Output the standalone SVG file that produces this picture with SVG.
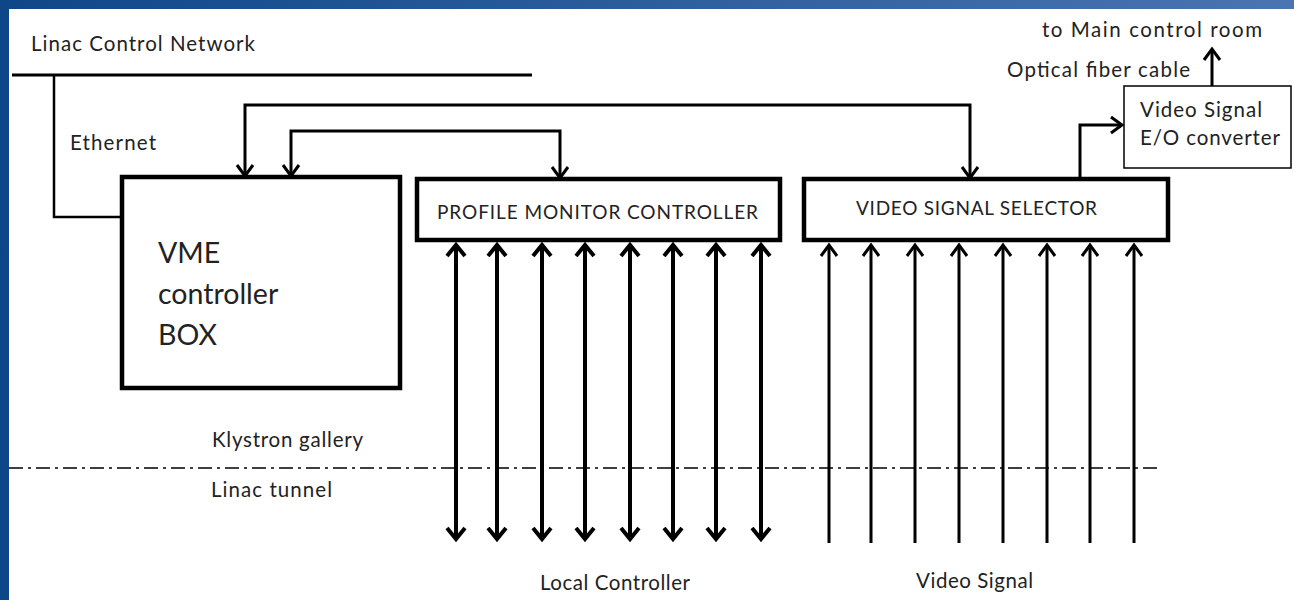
<svg xmlns="http://www.w3.org/2000/svg" width="1294" height="600" viewBox="0 0 1294 600">
<style>
.t{font-family:Lato,"Open Sans","Liberation Sans",sans-serif;fill:#222}
.s{font-size:20.5px}
.b{font-size:28.5px}
.box{fill:#fff;stroke:#000;stroke-width:4.5}
.thin{fill:#fff;stroke:#000;stroke-width:1.5}
.ln{fill:none;stroke:#000}
</style>
<defs>
<linearGradient id="bg" x1="0" y1="0" x2="1" y2="0">
<stop offset="0" stop-color="#0e4788"/>
<stop offset="1" stop-color="#4a74b2"/>
</linearGradient>
<marker id="ah" markerUnits="userSpaceOnUse" markerWidth="30" markerHeight="30" viewBox="-15 -15 30 30" refX="0" refY="0" orient="auto-start-reverse">
<path d="M-11,-9 L0,0 L-11,9" fill="none" stroke="#000" stroke-width="4"/>
</marker>
<marker id="as" markerUnits="userSpaceOnUse" markerWidth="30" markerHeight="30" viewBox="-15 -15 30 30" refX="0" refY="0" orient="auto-start-reverse">
<path d="M-11,-8 L0,0 L-11,8" fill="none" stroke="#000" stroke-width="3"/>
</marker>
</defs>
<rect x="0" y="0" width="1294" height="600" fill="url(#bg)"/>
<rect x="9" y="9" width="1285" height="591" fill="#fff"/>

<g id="labels">
<text class="t s" x="31" y="51" textLength="224" lengthAdjust="spacing">Linac Control Network</text>
<text class="t s" x="70" y="150" textLength="86" lengthAdjust="spacing">Ethernet</text>
<text class="t s" x="1042" y="37" textLength="220" lengthAdjust="spacing">to Main control room</text>
<text class="t s" x="1007" y="77" textLength="183" lengthAdjust="spacing">Optical fiber cable</text>
<text class="t s" x="212" y="447" textLength="151" lengthAdjust="spacing">Klystron gallery</text>
<text class="t s" x="211" y="497" textLength="121" lengthAdjust="spacing">Linac tunnel</text>
<text class="t s" x="540" y="590" textLength="150" lengthAdjust="spacing">Local Controller</text>
<text class="t s" x="916" y="588" textLength="117" lengthAdjust="spacing">Video Signal</text>
</g>

<g id="vme">
<rect class="box" x="122" y="177" width="278" height="211"/>
<text class="t b" x="158" y="263">VME</text>
<text class="t b" x="158" y="304">controller</text>
<text class="t b" x="158" y="345">BOX</text>
</g>

<g id="pmc">
<rect class="box" x="417" y="179" width="363" height="61"/>
<text class="t" x="437" y="219" font-size="19" textLength="321" lengthAdjust="spacing">PROFILE MONITOR CONTROLLER</text>
</g>

<g id="vss">
<rect class="box" x="804" y="179" width="364" height="61"/>
<text class="t" x="856" y="215" font-size="19" textLength="241" lengthAdjust="spacing">VIDEO SIGNAL SELECTOR</text>
</g>

<g id="converter">
<rect class="thin" x="1124" y="86" width="167" height="82"/>
<text class="t s" x="1140" y="117" textLength="122" lengthAdjust="spacing">Video Signal</text>
<text class="t s" x="1140" y="145" textLength="140" lengthAdjust="spacing">E/O converter</text>
</g>

<g id="connectors">
<path class="ln" stroke-width="3" d="M12,75 H532"/>
<path class="ln" stroke-width="2.5" d="M54,75 V217 H122"/>
<path class="ln" stroke-width="3" d="M245,176 V105 H970 V178" marker-start="url(#as)" marker-end="url(#as)"/>
<path class="ln" stroke-width="3" d="M291,176 V131 H560 V178" marker-start="url(#as)" marker-end="url(#as)"/>
<path class="ln" stroke-width="3" d="M1080,179 V125 H1122" marker-end="url(#as)"/>
<path class="ln" stroke-width="3" d="M1212,86 V49" marker-end="url(#as)"/>
<path class="ln" stroke-width="1.5" stroke-dasharray="14,5,3,5" d="M9,468 H1160"/>
<g stroke-width="4" class="ln">
<path class="ln" d="M456,245 V539" marker-start="url(#ah)" marker-end="url(#ah)"/>
<path class="ln" d="M497,245 V539" marker-start="url(#ah)" marker-end="url(#ah)"/>
<path class="ln" d="M542,245 V539" marker-start="url(#ah)" marker-end="url(#ah)"/>
<path class="ln" d="M585,245 V539" marker-start="url(#ah)" marker-end="url(#ah)"/>
<path class="ln" d="M630,245 V539" marker-start="url(#ah)" marker-end="url(#ah)"/>
<path class="ln" d="M673,245 V539" marker-start="url(#ah)" marker-end="url(#ah)"/>
<path class="ln" d="M716,245 V539" marker-start="url(#ah)" marker-end="url(#ah)"/>
<path class="ln" d="M761,245 V539" marker-start="url(#ah)" marker-end="url(#ah)"/>
</g>
<g stroke-width="3" class="ln">
<path class="ln" d="M829,543 V245" marker-end="url(#as)"/>
<path class="ln" d="M871,543 V245" marker-end="url(#as)"/>
<path class="ln" d="M915,543 V245" marker-end="url(#as)"/>
<path class="ln" d="M959,543 V245" marker-end="url(#as)"/>
<path class="ln" d="M1003,543 V245" marker-end="url(#as)"/>
<path class="ln" d="M1047,543 V245" marker-end="url(#as)"/>
<path class="ln" d="M1090,543 V245" marker-end="url(#as)"/>
<path class="ln" d="M1134,543 V245" marker-end="url(#as)"/>
</g>
</g>
</svg>
